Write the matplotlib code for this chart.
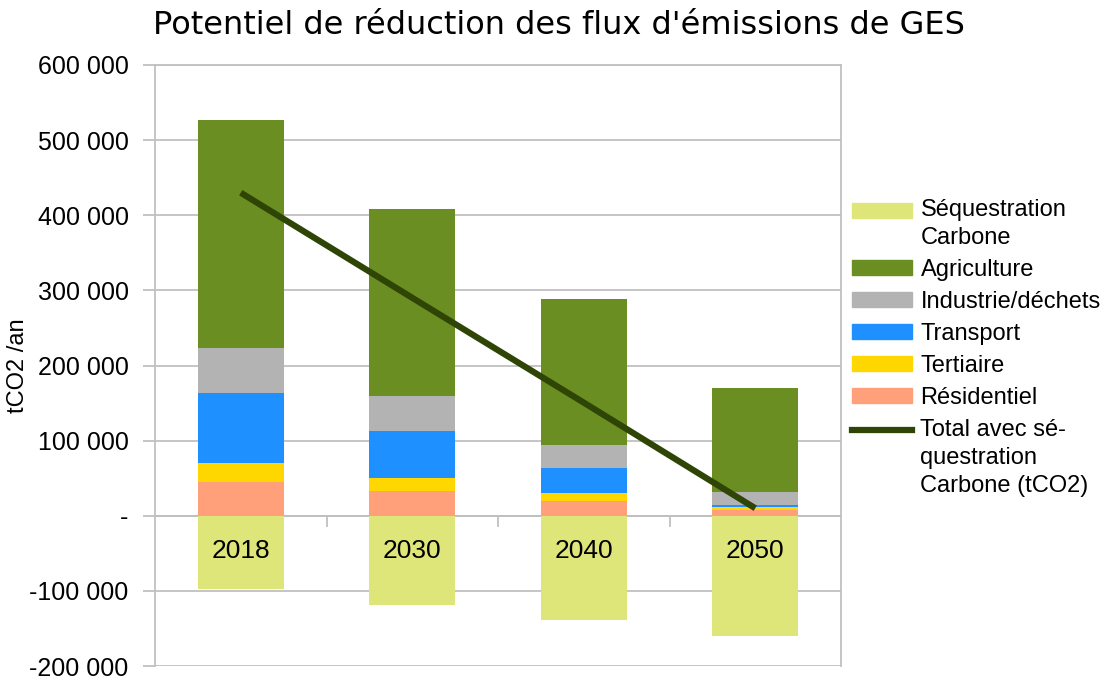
import matplotlib
matplotlib.use("Agg")
from matplotlib import pyplot as plt
from matplotlib.patches import Patch
from matplotlib.lines import Line2D
from matplotlib.legend_handler import HandlerPatch, HandlerLine2D
from matplotlib.ticker import FuncFormatter, FixedLocator
import numpy as np

years = ["2018", "2030", "2040", "2050"]
residentiel = [45300, 33000, 20000, 8000]
tertiaire = [25200, 17600, 10600, 4000]
transport = [93200, 62400, 33400, 2600]
industrie = [60000, 47000, 30500, 17400]
agriculture = [303300, 248600, 194500, 138000]
sequestration = [-97000, -118500, -138400, -160000]

colors = {
    "seq": "#dee679",
    "agri": "#6b8e23",
    "indus": "#b3b3b3",
    "transport": "#1e90ff",
    "tertiaire": "#ffd700",
    "resid": "#ffa07a",
    "total": "#2f4505",
}

plt.rcParams["font.family"] = ["Liberation Sans", "DejaVu Sans"]

fig = plt.figure(figsize=(11.07, 6.77), dpi=100)
ax = fig.add_axes([155 / 1107, 11 / 677, 686 / 1107, 601 / 677])

x = np.arange(len(years))
w = 0.5
bottom = np.zeros(len(years))
for vals, key in [(residentiel, "resid"), (tertiaire, "tertiaire"), (transport, "transport"),
                  (industrie, "indus"), (agriculture, "agri")]:
    ax.bar(x, vals, w, bottom=bottom, color=colors[key], zorder=3)
    bottom = bottom + np.array(vals)
ax.bar(x, sequestration, w, color=colors["seq"], zorder=3)

total = bottom + np.array(sequestration)
ax.plot(x, total, color=colors["total"], lw=4.5, zorder=4, solid_capstyle="butt")

for i, y in enumerate(years):
    ax.text(i, -47000, y, ha="center", va="center", fontsize=19, zorder=5)

ax.set_xlim(-0.5, 3.5)
ax.set_ylim(-200000, 600000)
ax.set_yticks(np.arange(-200000, 600001, 100000))


def fmt(v, pos):
    if v == 0:
        return "-"
    return "{:,.0f}".format(v).replace(",", " ")


ax.yaxis.set_major_formatter(FuncFormatter(fmt))
ax.grid(axis="y", color="#c0c0c0", lw=1.3, zorder=0)
ax.tick_params(axis="y", length=9, color="#c0c0c0", width=1.3, labelsize=18, pad=10)

ax.spines["bottom"].set_position(("data", 0))
ax.xaxis.set_major_locator(FixedLocator([0.5, 1.5, 2.5]))
ax.set_xticklabels([])
ax.tick_params(axis="x", length=8, color="#c0c0c0", width=1.3, direction="out")
for s in ["left", "right", "bottom", "top"]:
    ax.spines[s].set_color("#c0c0c0")
    ax.spines[s].set_linewidth(1.3)
ax.spines["bottom"].set_zorder(2)

ax.set_ylabel("tCO2 /an", fontsize=17)
ax.yaxis.set_label_coords(-0.183, 0.5)

fig.text(0.505, 0.962, "Potentiel de réduction des flux d'émissions de GES",
         ha="center", va="center", fontsize=23, family="DejaVu Sans")


# legend handles sit on the first line of a wrapped label
class PatchUp(HandlerPatch):
    def __init__(self, dy):
        super().__init__()
        self.dy = dy

    def create_artists(self, *args, **kwargs):
        arts = super().create_artists(*args, **kwargs)
        for a in arts:
            a.set_y(a.get_y() + self.dy)
        return arts


class LineUp(HandlerLine2D):
    def __init__(self, dy):
        super().__init__()
        self.dy = dy

    def create_artists(self, *args, **kwargs):
        arts = super().create_artists(*args, **kwargs)
        for a in arts:
            a.set_ydata(np.asarray(a.get_ydata()) + self.dy)
        return arts


fs = 17
handles = [
    Patch(color=colors["seq"]),
    Patch(color=colors["agri"]),
    Patch(color=colors["indus"]),
    Patch(color=colors["transport"]),
    Patch(color=colors["tertiaire"]),
    Patch(color=colors["resid"]),
    Line2D([0], [0], color=colors["total"], lw=4.5),
]
labels = ["Séquestration\nCarbone", "Agriculture", "Industrie/déchets", "Transport",
          "Tertiaire", "Résidentiel", "Total avec sé-\nquestration\nCarbone (tCO2)"]
leg = fig.legend(handles, labels, loc="upper left", bbox_to_anchor=(852 / 1107, 1 - 199 / 677),
                 frameon=False, fontsize=fs, handlelength=2.55, handleheight=0.6,
                 handletextpad=0.35, labelspacing=0.42, borderpad=0, borderaxespad=0,
                 handler_map={handles[0]: PatchUp(10.3), handles[6]: LineUp(20.8)})
for t in leg.get_texts():
    t.set_linespacing(1.37)

fig.savefig("out.png", dpi=100)
